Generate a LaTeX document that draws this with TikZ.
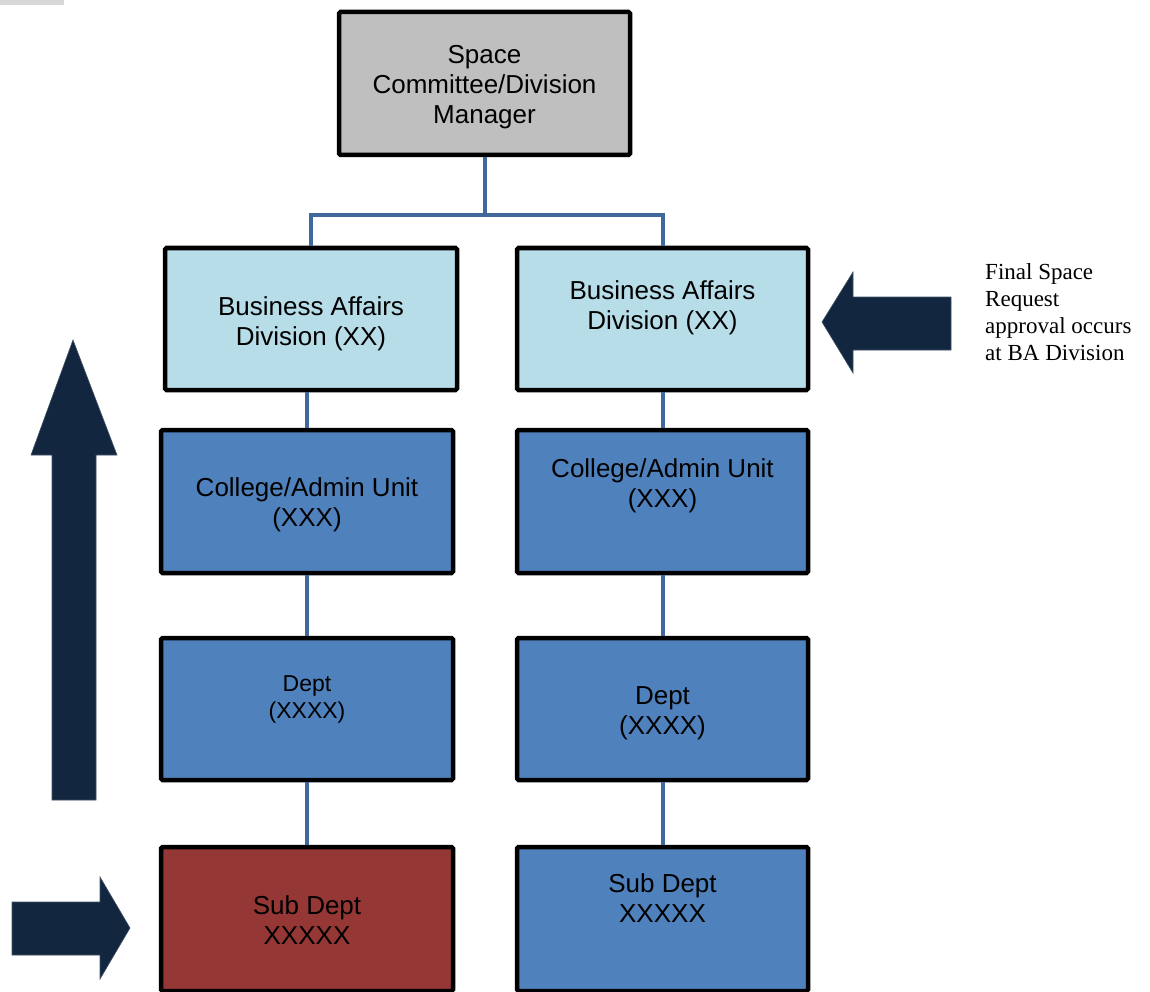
\documentclass[tikz,border=0pt]{standalone}
\usepackage{fontspec}
\setmainfont{Liberation Serif}
\setsansfont{Liberation Sans}
\definecolor{boxgray}{HTML}{BFBFBF}
\definecolor{ltblue}{HTML}{B7DDE8}
\definecolor{midblue}{HTML}{4F81BD}
\definecolor{subred}{HTML}{953735}
\definecolor{navy}{HTML}{12263F}
\definecolor{linkblue}{HTML}{41689C}
\tikzset{
  orgbox/.style={draw=black, line width=4.5pt, rounded corners=1.5pt, inner sep=0pt},
  boxtext/.style={font=\sffamily\fontsize{26}{30}\selectfont, align=center, inner sep=0pt},
  smalltext/.style={font=\sffamily\fontsize{23}{27}\selectfont, align=center, inner sep=0pt},
  link/.style={draw=linkblue, line width=4pt},
  bigarrow/.style={fill=navy, draw=navy!80!white, line width=0.6pt, line join=miter}
}
\begin{document}
\begin{tikzpicture}[x=1pt,y=-1pt]
\useasboundingbox (0,0) rectangle (1150,992);
\clip (0,0) rectangle (1150,992);
% faint shadow remnant at top left
\fill[black!30, opacity=0.5] (0,0) rectangle (64,5);
% boxes
\node[orgbox, fill=boxgray, minimum width=291pt, minimum height=143pt,
  label={[boxtext, yshift=-4pt]center:Space\\Committee/Division\\Manager}] (top) at (484.5,83.5) {};
\node[orgbox, fill=ltblue, minimum width=292pt, minimum height=142pt,
  label={[boxtext, yshift=-4.5pt]center:Business Affairs\\Division (XX)}] (bal) at (311,319) {};
\node[orgbox, fill=ltblue, minimum width=291pt, minimum height=142pt,
  label={[boxtext, yshift=11.5pt]center:Business Affairs\\Division (XX)}] (bar) at (662.5,319) {};
\node[orgbox, fill=midblue, minimum width=292pt, minimum height=143pt,
  label={[boxtext, yshift=-3.5pt]center:College/Admin Unit\\(XXX)}] (cl) at (307,501.5) {};
\node[orgbox, fill=midblue, minimum width=291pt, minimum height=143pt,
  label={[boxtext, yshift=16pt]center:College/Admin Unit\\(XXX)}] (cr) at (662.5,501.5) {};
\node[orgbox, fill=midblue, minimum width=292pt, minimum height=142pt,
  label={[smalltext, yshift=9.5pt]center:Dept\\(XXXX)}] (dl) at (307,709) {};
\node[orgbox, fill=midblue, minimum width=291pt, minimum height=142pt,
  label={[boxtext, yshift=-4.5pt]center:Dept\\(XXXX)}] (dr) at (662.5,709) {};
\node[orgbox, fill=subred, minimum width=292pt, minimum height=144pt,
  label={[boxtext, yshift=-1pt]center:Sub Dept\\XXXXX}] (sl) at (307,919) {};
\node[orgbox, fill=midblue, minimum width=291pt, minimum height=144pt,
  label={[boxtext, yshift=21pt]center:Sub Dept\\XXXXX}] (sr) at (662.5,919) {};
% connectors
\coordinate (split) at (484.5,215);
\draw[link] (top.south) -- (split);
\draw[link] (split) -| (bal.north);
\draw[link] (split) -| (bar.north);
\draw[link] (cl.north |- bal.south) -- (cl.north);
\draw[link] (bar.south) -- (cr.north);
\draw[link] (cl.south) -- (dl.north);
\draw[link] (cr.south) -- (dr.north);
\draw[link] (dl.south) -- (sl.north);
\draw[link] (dr.south) -- (sr.north);
% big arrows
\filldraw[bigarrow] (73,340) -- (117,455) -- (96,455) -- (96,800) -- (52,800) -- (52,455) -- (31,455) -- cycle;
\filldraw[bigarrow] (822,322) -- (853,272) -- (853,297) -- (951,297) -- (951,350) -- (853,350) -- (853,373) -- cycle;
\filldraw[bigarrow] (130,928) -- (100,877) -- (100,902) -- (12,902) -- (12,955) -- (100,955) -- (100,979) -- cycle;
% side note
\node[anchor=north west, align=left, inner sep=0pt, font=\fontsize{23}{27}\selectfont] (note) at (985,263)
  {Final Space\\Request\\approval occurs\\at BA Division};
\end{tikzpicture}
\end{document}
